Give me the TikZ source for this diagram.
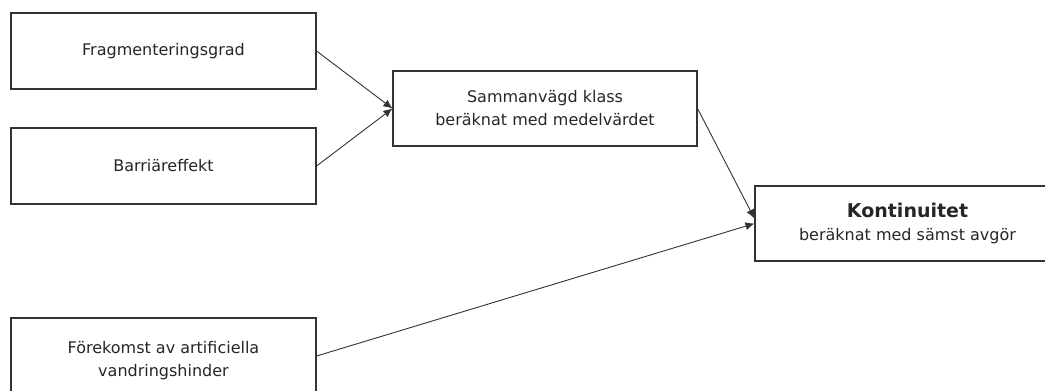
\documentclass[tikz,border=0pt]{standalone}
\usepackage{fontspec}
\setmainfont{DejaVu Sans}
\usetikzlibrary{arrows.meta}
\tikzset{
  box/.style={draw=black!80, line width=1.1bp, rectangle, align=center, inner sep=0pt,
    font=\fontsize{16bp}{23bp}\selectfont, text=black!85},
  conn/.style={draw=black!80, line width=0.9bp, -{Latex[length=9bp,width=8bp]}}
}
\begin{document}
\begin{tikzpicture}[x=1bp,y=-1bp]
\useasboundingbox (0,0) rectangle (1045,390);
\clip (0,0) rectangle (1045,390);
\node[box, minimum width=305bp, minimum height=76bp] (b1) at (163.5,51) {Fragmenteringsgrad};
\node[box, minimum width=305bp, minimum height=76bp] (b2) at (163.5,166) {Barriäreffekt};
\node[box, minimum width=304bp, minimum height=75bp] (b3) at (545,108.5) {Sammanvägd klass\\beräknat med medelvärdet};
\node[box, minimum width=305bp, minimum height=75bp] (b4) at (907.5,223.5) {{\bfseries\fontsize{19bp}{24bp}\selectfont Kontinuitet}\\beräknat med sämst avgör};
\node[box, minimum width=305bp, minimum height=86bp] (b5) at (163.5,361) {\fontsize{16bp}{20bp}\selectfont Förekomst av artificiella\\vandringshinder};
\draw[conn] (b1.east) -- (b3.west);
\draw[conn] (b2.east) -- (b3.west);
\draw[conn] (b3.east) -- ([yshift=5bp]b4.west);
\draw[conn] ([yshift=5bp]b5.east) -- (b4.west);
\end{tikzpicture}
\end{document}
